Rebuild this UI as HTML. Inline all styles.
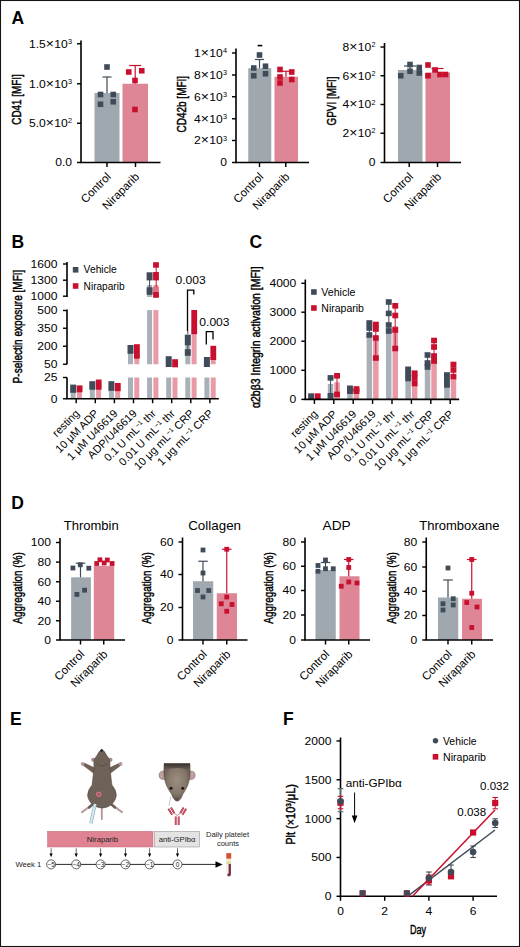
<!DOCTYPE html>
<html><head><meta charset="utf-8"><style>html,body{margin:0;padding:0;background:#fff;}svg{display:block;}</style></head><body>
<svg width="520" height="947" viewBox="0 0 520 947" font-family='"Liberation Sans", sans-serif'>
<rect x="0.00" y="0.00" width="520.00" height="947.00" fill="#fff" />
<text transform="translate(11.40,24.40)" font-size="17.5" text-anchor="start" font-weight="bold" fill="#000" >A</text>
<text transform="translate(11.60,248.30)" font-size="17.5" text-anchor="start" font-weight="bold" fill="#000" >B</text>
<text transform="translate(249.40,248.30)" font-size="17.5" text-anchor="start" font-weight="bold" fill="#000" >C</text>
<text transform="translate(11.30,508.60)" font-size="17.5" text-anchor="start" font-weight="bold" fill="#000" >D</text>
<text transform="translate(9.90,725.40)" font-size="17.5" text-anchor="start" font-weight="bold" fill="#000" >E</text>
<text transform="translate(282.90,725.30)" font-size="17.5" text-anchor="start" font-weight="bold" fill="#000" >F</text>
<line x1="81.00" y1="40.50" x2="81.00" y2="162.50" stroke="#000" stroke-width="1.6" />
<line x1="77.00" y1="43.75" x2="81.00" y2="43.75" stroke="#000" stroke-width="1.4400000000000002" />
<text transform="translate(72.00,47.64) scale(1.12,1)" font-size="10.8" text-anchor="end" font-weight="normal" fill="#000" >1.5<tspan dx="0.1" font-size="12.5">×</tspan><tspan dx="0.1" font-size="10.8">10</tspan><tspan dx="0.3" dy="-3.9" font-size="6.5">3</tspan></text>
<line x1="77.00" y1="83.75" x2="81.00" y2="83.75" stroke="#000" stroke-width="1.4400000000000002" />
<text transform="translate(72.00,87.64) scale(1.12,1)" font-size="10.8" text-anchor="end" font-weight="normal" fill="#000" >1.0<tspan dx="0.1" font-size="12.5">×</tspan><tspan dx="0.1" font-size="10.8">10</tspan><tspan dx="0.3" dy="-3.9" font-size="6.5">3</tspan></text>
<line x1="77.00" y1="123.25" x2="81.00" y2="123.25" stroke="#000" stroke-width="1.4400000000000002" />
<text transform="translate(72.00,127.14) scale(1.12,1)" font-size="10.8" text-anchor="end" font-weight="normal" fill="#000" >5.0<tspan dx="0.1" font-size="12.5">×</tspan><tspan dx="0.1" font-size="10.8">10</tspan><tspan dx="0.3" dy="-3.9" font-size="6.5">2</tspan></text>
<line x1="77.00" y1="162.50" x2="81.00" y2="162.50" stroke="#000" stroke-width="1.4400000000000002" />
<text transform="translate(72.00,166.39) scale(1.12,1)" font-size="10.8" text-anchor="end" font-weight="normal" fill="#000" >0.0</text>
<rect x="94.50" y="93.00" width="25.00" height="69.50" fill="#a0a8af" />
<rect x="122.50" y="83.75" width="25.50" height="78.75" fill="#de8696" />
<line x1="107.00" y1="93.00" x2="107.00" y2="77.00" stroke="#3f4b58" stroke-width="1.2" />
<line x1="102.50" y1="77.00" x2="111.50" y2="77.00" stroke="#3f4b58" stroke-width="1.2" />
<line x1="135.20" y1="83.75" x2="135.20" y2="65.50" stroke="#c8102e" stroke-width="1.2" />
<line x1="129.20" y1="65.50" x2="141.20" y2="65.50" stroke="#c8102e" stroke-width="1.2" />
<rect x="104.20" y="64.20" width="5.60" height="5.60" fill="#3f4b58" />
<rect x="97.70" y="91.70" width="5.60" height="5.60" fill="#3f4b58" />
<rect x="110.45" y="91.70" width="5.60" height="5.60" fill="#3f4b58" />
<rect x="97.70" y="101.45" width="5.60" height="5.60" fill="#3f4b58" />
<rect x="110.45" y="98.95" width="5.60" height="5.60" fill="#3f4b58" />
<rect x="125.95" y="69.20" width="5.60" height="5.60" fill="#c8102e" />
<rect x="138.95" y="67.95" width="5.60" height="5.60" fill="#c8102e" />
<rect x="132.20" y="77.70" width="5.60" height="5.60" fill="#c8102e" />
<rect x="132.20" y="106.70" width="5.60" height="5.60" fill="#c8102e" />
<line x1="80.20" y1="162.50" x2="160.50" y2="162.50" stroke="#000" stroke-width="1.6" />
<line x1="107.00" y1="162.50" x2="107.00" y2="167.00" stroke="#000" stroke-width="1.4400000000000002" />
<line x1="135.50" y1="162.50" x2="135.50" y2="167.00" stroke="#000" stroke-width="1.4400000000000002" />
<text transform="translate(111.60,177.50) rotate(-45)" font-size="11.5" text-anchor="end" font-weight="normal" fill="#000" >Control</text>
<text transform="translate(140.10,177.50) rotate(-45)" font-size="11.5" text-anchor="end" font-weight="normal" fill="#000" >Niraparib</text>
<text transform="translate(21.22,99.45) rotate(-90)" font-size="13.5" text-anchor="middle" font-weight="normal" textLength="50.5" lengthAdjust="spacingAndGlyphs" stroke="#000" stroke-width="0.45">CD41 [MFI]</text>
<line x1="236.00" y1="48.50" x2="236.00" y2="162.50" stroke="#000" stroke-width="1.6" />
<line x1="232.00" y1="53.00" x2="236.00" y2="53.00" stroke="#000" stroke-width="1.4400000000000002" />
<text transform="translate(227.00,56.89) scale(1.12,1)" font-size="10.8" text-anchor="end" font-weight="normal" fill="#000" >1<tspan dx="0.1" font-size="12.5">×</tspan><tspan dx="0.1" font-size="10.8">10</tspan><tspan dx="0.3" dy="-3.9" font-size="6.5">4</tspan></text>
<line x1="232.00" y1="75.00" x2="236.00" y2="75.00" stroke="#000" stroke-width="1.4400000000000002" />
<text transform="translate(227.00,78.89) scale(1.12,1)" font-size="10.8" text-anchor="end" font-weight="normal" fill="#000" >8<tspan dx="0.1" font-size="12.5">×</tspan><tspan dx="0.1" font-size="10.8">10</tspan><tspan dx="0.3" dy="-3.9" font-size="6.5">3</tspan></text>
<line x1="232.00" y1="96.75" x2="236.00" y2="96.75" stroke="#000" stroke-width="1.4400000000000002" />
<text transform="translate(227.00,100.64) scale(1.12,1)" font-size="10.8" text-anchor="end" font-weight="normal" fill="#000" >6<tspan dx="0.1" font-size="12.5">×</tspan><tspan dx="0.1" font-size="10.8">10</tspan><tspan dx="0.3" dy="-3.9" font-size="6.5">3</tspan></text>
<line x1="232.00" y1="118.75" x2="236.00" y2="118.75" stroke="#000" stroke-width="1.4400000000000002" />
<text transform="translate(227.00,122.64) scale(1.12,1)" font-size="10.8" text-anchor="end" font-weight="normal" fill="#000" >4<tspan dx="0.1" font-size="12.5">×</tspan><tspan dx="0.1" font-size="10.8">10</tspan><tspan dx="0.3" dy="-3.9" font-size="6.5">3</tspan></text>
<line x1="232.00" y1="140.50" x2="236.00" y2="140.50" stroke="#000" stroke-width="1.4400000000000002" />
<text transform="translate(227.00,144.39) scale(1.12,1)" font-size="10.8" text-anchor="end" font-weight="normal" fill="#000" >2<tspan dx="0.1" font-size="12.5">×</tspan><tspan dx="0.1" font-size="10.8">10</tspan><tspan dx="0.3" dy="-3.9" font-size="6.5">3</tspan></text>
<line x1="232.00" y1="162.50" x2="236.00" y2="162.50" stroke="#000" stroke-width="1.4400000000000002" />
<text transform="translate(227.00,166.39) scale(1.12,1)" font-size="10.8" text-anchor="end" font-weight="normal" fill="#000" >0</text>
<rect x="248.25" y="68.25" width="23.00" height="94.25" fill="#a0a8af" />
<rect x="274.50" y="76.75" width="23.50" height="85.75" fill="#de8696" />
<line x1="259.50" y1="68.25" x2="259.50" y2="59.50" stroke="#3f4b58" stroke-width="1.2" />
<line x1="255.00" y1="59.50" x2="264.00" y2="59.50" stroke="#3f4b58" stroke-width="1.2" />
<line x1="257.60" y1="45.60" x2="262.30" y2="45.60" stroke="#000" stroke-width="1.6" />
<rect x="256.70" y="52.20" width="5.60" height="5.60" fill="#3f4b58" />
<rect x="250.95" y="65.20" width="5.60" height="5.60" fill="#3f4b58" />
<rect x="262.70" y="63.45" width="5.60" height="5.60" fill="#3f4b58" />
<rect x="250.95" y="72.95" width="5.60" height="5.60" fill="#3f4b58" />
<rect x="262.70" y="70.95" width="5.60" height="5.60" fill="#3f4b58" />
<line x1="286.00" y1="76.75" x2="286.00" y2="71.25" stroke="#c8102e" stroke-width="1.2" />
<line x1="280.00" y1="71.25" x2="292.00" y2="71.25" stroke="#c8102e" stroke-width="1.2" />
<rect x="277.20" y="66.70" width="5.60" height="5.60" fill="#c8102e" />
<rect x="288.95" y="69.20" width="5.60" height="5.60" fill="#c8102e" />
<rect x="277.20" y="74.20" width="5.60" height="5.60" fill="#c8102e" />
<rect x="277.20" y="80.20" width="5.60" height="5.60" fill="#c8102e" />
<rect x="288.95" y="76.70" width="5.60" height="5.60" fill="#c8102e" />
<line x1="235.20" y1="162.50" x2="309.00" y2="162.50" stroke="#000" stroke-width="1.6" />
<line x1="259.50" y1="162.50" x2="259.50" y2="167.00" stroke="#000" stroke-width="1.4400000000000002" />
<line x1="285.75" y1="162.50" x2="285.75" y2="167.00" stroke="#000" stroke-width="1.4400000000000002" />
<text transform="translate(264.10,177.50) rotate(-45)" font-size="11.5" text-anchor="end" font-weight="normal" fill="#000" >Control</text>
<text transform="translate(290.35,177.50) rotate(-45)" font-size="11.5" text-anchor="end" font-weight="normal" fill="#000" >Niraparib</text>
<text transform="translate(185.92,104.20) rotate(-90)" font-size="13.5" text-anchor="middle" font-weight="normal" textLength="56.6" lengthAdjust="spacingAndGlyphs" stroke="#000" stroke-width="0.45">CD42b [MFI]</text>
<line x1="384.50" y1="43.00" x2="384.50" y2="162.50" stroke="#000" stroke-width="1.6" />
<line x1="380.50" y1="47.00" x2="384.50" y2="47.00" stroke="#000" stroke-width="1.4400000000000002" />
<text transform="translate(375.50,50.89) scale(1.12,1)" font-size="10.8" text-anchor="end" font-weight="normal" fill="#000" >8<tspan dx="0.1" font-size="12.5">×</tspan><tspan dx="0.1" font-size="10.8">10</tspan><tspan dx="0.3" dy="-3.9" font-size="6.5">2</tspan></text>
<line x1="380.50" y1="75.75" x2="384.50" y2="75.75" stroke="#000" stroke-width="1.4400000000000002" />
<text transform="translate(375.50,79.64) scale(1.12,1)" font-size="10.8" text-anchor="end" font-weight="normal" fill="#000" >6<tspan dx="0.1" font-size="12.5">×</tspan><tspan dx="0.1" font-size="10.8">10</tspan><tspan dx="0.3" dy="-3.9" font-size="6.5">2</tspan></text>
<line x1="380.50" y1="104.50" x2="384.50" y2="104.50" stroke="#000" stroke-width="1.4400000000000002" />
<text transform="translate(375.50,108.39) scale(1.12,1)" font-size="10.8" text-anchor="end" font-weight="normal" fill="#000" >4<tspan dx="0.1" font-size="12.5">×</tspan><tspan dx="0.1" font-size="10.8">10</tspan><tspan dx="0.3" dy="-3.9" font-size="6.5">2</tspan></text>
<line x1="380.50" y1="133.25" x2="384.50" y2="133.25" stroke="#000" stroke-width="1.4400000000000002" />
<text transform="translate(375.50,137.14) scale(1.12,1)" font-size="10.8" text-anchor="end" font-weight="normal" fill="#000" >2<tspan dx="0.1" font-size="12.5">×</tspan><tspan dx="0.1" font-size="10.8">10</tspan><tspan dx="0.3" dy="-3.9" font-size="6.5">2</tspan></text>
<line x1="380.50" y1="162.50" x2="384.50" y2="162.50" stroke="#000" stroke-width="1.4400000000000002" />
<text transform="translate(375.50,166.39) scale(1.12,1)" font-size="10.8" text-anchor="end" font-weight="normal" fill="#000" >0</text>
<rect x="398.00" y="70.00" width="24.50" height="92.50" fill="#a0a8af" />
<rect x="425.50" y="72.50" width="24.50" height="90.00" fill="#de8696" />
<line x1="410.00" y1="70.00" x2="410.00" y2="66.00" stroke="#3f4b58" stroke-width="1.2" />
<line x1="404.00" y1="66.00" x2="416.00" y2="66.00" stroke="#3f4b58" stroke-width="1.2" />
<rect x="397.95" y="72.95" width="5.60" height="5.60" fill="#3f4b58" />
<rect x="407.20" y="61.70" width="5.60" height="5.60" fill="#3f4b58" />
<rect x="407.20" y="68.45" width="5.60" height="5.60" fill="#3f4b58" />
<rect x="416.45" y="64.70" width="5.60" height="5.60" fill="#3f4b58" />
<rect x="416.45" y="70.20" width="5.60" height="5.60" fill="#3f4b58" />
<line x1="437.50" y1="72.50" x2="437.50" y2="68.50" stroke="#c8102e" stroke-width="1.2" />
<line x1="431.50" y1="68.50" x2="443.50" y2="68.50" stroke="#c8102e" stroke-width="1.2" />
<rect x="425.20" y="62.20" width="5.60" height="5.60" fill="#c8102e" />
<rect x="432.20" y="67.20" width="5.60" height="5.60" fill="#c8102e" />
<rect x="442.70" y="71.70" width="5.60" height="5.60" fill="#c8102e" />
<rect x="437.20" y="71.70" width="5.60" height="5.60" fill="#c8102e" />
<rect x="425.20" y="72.95" width="5.60" height="5.60" fill="#c8102e" />
<line x1="383.70" y1="162.50" x2="461.00" y2="162.50" stroke="#000" stroke-width="1.6" />
<line x1="409.20" y1="162.50" x2="409.20" y2="167.00" stroke="#000" stroke-width="1.4400000000000002" />
<line x1="437.50" y1="162.50" x2="437.50" y2="167.00" stroke="#000" stroke-width="1.4400000000000002" />
<text transform="translate(413.80,177.50) rotate(-45)" font-size="11.5" text-anchor="end" font-weight="normal" fill="#000" >Control</text>
<text transform="translate(442.10,177.50) rotate(-45)" font-size="11.5" text-anchor="end" font-weight="normal" fill="#000" >Niraparib</text>
<text transform="translate(335.82,101.00) rotate(-90)" font-size="13.5" text-anchor="middle" font-weight="normal" textLength="48.8" lengthAdjust="spacingAndGlyphs" stroke="#000" stroke-width="0.45">GPVI [MFI]</text>
<line x1="67.00" y1="262.00" x2="67.00" y2="297.00" stroke="#000" stroke-width="1.6" />
<line x1="63.00" y1="264.00" x2="67.00" y2="264.00" stroke="#000" stroke-width="1.4" />
<text transform="translate(57.50,267.90) scale(1.12,1)" font-size="10.8" text-anchor="end" font-weight="normal" fill="#000" >1600</text>
<line x1="63.00" y1="280.20" x2="67.00" y2="280.20" stroke="#000" stroke-width="1.4" />
<text transform="translate(57.50,284.10) scale(1.12,1)" font-size="10.8" text-anchor="end" font-weight="normal" fill="#000" >1300</text>
<line x1="63.00" y1="296.20" x2="67.00" y2="296.20" stroke="#000" stroke-width="1.4" />
<text transform="translate(57.50,300.10) scale(1.12,1)" font-size="10.8" text-anchor="end" font-weight="normal" fill="#000" >1000</text>
<line x1="67.00" y1="309.50" x2="67.00" y2="364.25" stroke="#000" stroke-width="1.6" />
<line x1="63.00" y1="310.50" x2="67.00" y2="310.50" stroke="#000" stroke-width="1.4" />
<text transform="translate(57.50,314.40) scale(1.12,1)" font-size="10.8" text-anchor="end" font-weight="normal" fill="#000" >500</text>
<line x1="63.00" y1="328.25" x2="67.00" y2="328.25" stroke="#000" stroke-width="1.4" />
<text transform="translate(57.50,332.15) scale(1.12,1)" font-size="10.8" text-anchor="end" font-weight="normal" fill="#000" >350</text>
<line x1="63.00" y1="346.25" x2="67.00" y2="346.25" stroke="#000" stroke-width="1.4" />
<text transform="translate(57.50,350.15) scale(1.12,1)" font-size="10.8" text-anchor="end" font-weight="normal" fill="#000" >200</text>
<line x1="63.00" y1="364.25" x2="67.00" y2="364.25" stroke="#000" stroke-width="1.4" />
<text transform="translate(57.50,368.15) scale(1.12,1)" font-size="10.8" text-anchor="end" font-weight="normal" fill="#000" >50</text>
<line x1="67.00" y1="377.50" x2="67.00" y2="398.75" stroke="#000" stroke-width="1.6" />
<line x1="63.00" y1="377.50" x2="67.00" y2="377.50" stroke="#000" stroke-width="1.4" />
<text transform="translate(57.50,381.40) scale(1.12,1)" font-size="10.8" text-anchor="end" font-weight="normal" fill="#000" >25</text>
<line x1="63.00" y1="398.75" x2="67.00" y2="398.75" stroke="#000" stroke-width="1.4" />
<text transform="translate(57.50,402.65) scale(1.12,1)" font-size="10.8" text-anchor="end" font-weight="normal" fill="#000" >0</text>
<rect x="128.00" y="377.50" width="5.00" height="21.25" fill="#a9b0b7" />
<rect x="134.30" y="377.50" width="5.00" height="21.25" fill="#e89ba7" />
<rect x="147.10" y="377.50" width="5.00" height="21.25" fill="#a9b0b7" />
<rect x="153.40" y="377.50" width="5.00" height="21.25" fill="#e89ba7" />
<rect x="166.20" y="377.50" width="5.00" height="21.25" fill="#a9b0b7" />
<rect x="172.50" y="377.50" width="5.00" height="21.25" fill="#e89ba7" />
<rect x="185.30" y="377.50" width="5.00" height="21.25" fill="#a9b0b7" />
<rect x="191.60" y="377.50" width="5.00" height="21.25" fill="#e89ba7" />
<rect x="204.40" y="377.50" width="5.00" height="21.25" fill="#a9b0b7" />
<rect x="210.70" y="377.50" width="5.00" height="21.25" fill="#e89ba7" />
<rect x="70.70" y="388.00" width="5.00" height="10.75" fill="#a9b0b7" />
<rect x="70.20" y="384.60" width="6.00" height="8.20" fill="#3f4b58" />
<rect x="77.00" y="388.00" width="5.00" height="10.75" fill="#e89ba7" />
<rect x="76.70" y="385.40" width="5.80" height="6.90" fill="#c8102e" />
<rect x="89.80" y="385.00" width="5.00" height="13.75" fill="#a9b0b7" />
<rect x="89.30" y="381.20" width="6.00" height="8.50" fill="#3f4b58" />
<rect x="96.10" y="385.00" width="5.00" height="13.75" fill="#e89ba7" />
<rect x="95.80" y="379.50" width="5.80" height="10.20" fill="#c8102e" />
<rect x="108.90" y="385.00" width="5.00" height="13.75" fill="#a9b0b7" />
<rect x="108.40" y="381.20" width="6.00" height="9.60" fill="#3f4b58" />
<rect x="115.20" y="385.00" width="5.00" height="13.75" fill="#e89ba7" />
<rect x="114.90" y="383.00" width="5.80" height="8.20" fill="#c8102e" />
<rect x="128.00" y="350.00" width="5.00" height="14.25" fill="#a9b0b7" />
<rect x="127.50" y="345.00" width="6.00" height="8.80" fill="#3f4b58" />
<rect x="134.30" y="350.00" width="5.00" height="14.25" fill="#e89ba7" />
<rect x="134.00" y="344.20" width="5.80" height="14.50" fill="#c8102e" />
<rect x="147.10" y="310.10" width="5.00" height="54.15" fill="#a9b0b7" />
<rect x="153.40" y="310.10" width="5.00" height="54.15" fill="#e89ba7" />
<rect x="165.70" y="356.20" width="6.00" height="10.80" fill="#3f4b58" />
<rect x="172.20" y="359.20" width="5.80" height="8.10" fill="#c8102e" />
<rect x="185.30" y="340.00" width="5.00" height="24.25" fill="#a9b0b7" />
<rect x="184.80" y="334.60" width="6.00" height="10.70" fill="#3f4b58" />
<rect x="184.80" y="349.20" width="6.00" height="6.60" fill="#3f4b58" />
<line x1="187.80" y1="345.00" x2="187.80" y2="349.50" stroke="#3f4b58" stroke-width="1" />
<rect x="191.60" y="330.00" width="5.00" height="34.25" fill="#e89ba7" />
<rect x="191.30" y="310.00" width="5.80" height="24.20" fill="#c8102e" />
<line x1="187.80" y1="334.00" x2="187.80" y2="331.00" stroke="#3f4b58" stroke-width="1" />
<rect x="204.40" y="360.00" width="5.00" height="4.25" fill="#a9b0b7" />
<rect x="203.90" y="357.00" width="6.00" height="10.00" fill="#3f4b58" />
<rect x="210.70" y="355.00" width="5.00" height="9.25" fill="#e89ba7" />
<rect x="210.40" y="345.80" width="5.80" height="14.20" fill="#c8102e" />
<rect x="147.10" y="285.00" width="5.00" height="12.00" fill="#a9b0b7" />
<rect x="153.40" y="285.00" width="5.00" height="12.70" fill="#e89ba7" />
<line x1="149.60" y1="280.00" x2="149.60" y2="288.00" stroke="#3f4b58" stroke-width="1" />
<line x1="156.20" y1="267.00" x2="156.20" y2="288.00" stroke="#c8102e" stroke-width="1" />
<rect x="146.60" y="272.30" width="6.00" height="8.10" fill="#3f4b58" />
<rect x="146.60" y="287.30" width="6.00" height="7.50" fill="#3f4b58" />
<rect x="153.10" y="262.20" width="5.80" height="5.50" fill="#c8102e" />
<rect x="153.10" y="272.00" width="5.80" height="8.40" fill="#c8102e" />
<rect x="153.10" y="292.00" width="5.80" height="5.70" fill="#c8102e" />
<rect x="153.10" y="287.00" width="5.80" height="5.00" fill="#e4707f" />
<polyline points="187.5,331 187.5,290.2 193.8,290.2 193.8,294.4" fill="none" stroke="#000" stroke-width="1.3"/>
<polyline points="206.3,344.6 206.3,331.7 213,331.7 213,339.4" fill="none" stroke="#000" stroke-width="1.3"/>
<text transform="translate(175.50,284.30) scale(1.12,1)" font-size="10.8" text-anchor="start" font-weight="normal" fill="#000" >0.003</text>
<text transform="translate(199.30,325.80) scale(1.12,1)" font-size="10.8" text-anchor="start" font-weight="normal" fill="#000" >0.003</text>
<line x1="66.20" y1="398.75" x2="218.80" y2="398.75" stroke="#000" stroke-width="1.6" />
<line x1="76.20" y1="398.75" x2="76.20" y2="403.25" stroke="#000" stroke-width="1.4400000000000002" />
<line x1="95.30" y1="398.75" x2="95.30" y2="403.25" stroke="#000" stroke-width="1.4400000000000002" />
<line x1="114.40" y1="398.75" x2="114.40" y2="403.25" stroke="#000" stroke-width="1.4400000000000002" />
<line x1="133.50" y1="398.75" x2="133.50" y2="403.25" stroke="#000" stroke-width="1.4400000000000002" />
<line x1="152.60" y1="398.75" x2="152.60" y2="403.25" stroke="#000" stroke-width="1.4400000000000002" />
<line x1="171.70" y1="398.75" x2="171.70" y2="403.25" stroke="#000" stroke-width="1.4400000000000002" />
<line x1="190.80" y1="398.75" x2="190.80" y2="403.25" stroke="#000" stroke-width="1.4400000000000002" />
<line x1="209.90" y1="398.75" x2="209.90" y2="403.25" stroke="#000" stroke-width="1.4400000000000002" />
<rect x="72.80" y="267.00" width="5.60" height="5.60" fill="#3f4b58" />
<text transform="translate(83.60,273.40)" font-size="10.3" text-anchor="start" font-weight="normal" fill="#000" >Vehicle</text>
<rect x="72.80" y="283.20" width="5.60" height="5.60" fill="#c8102e" />
<text transform="translate(83.60,289.60)" font-size="10.1" text-anchor="start" font-weight="normal" fill="#000" >Niraparib</text>
<text transform="translate(22.47,326.50) rotate(-90)" font-size="13.5" text-anchor="middle" font-weight="normal" textLength="113.8" lengthAdjust="spacingAndGlyphs" stroke="#000" stroke-width="0.45">P-selectin exposure [MFI]</text>
<text transform="translate(80.20,414.05) rotate(-45)" font-size="11" text-anchor="end" font-weight="normal" fill="#000" >resting</text>
<text transform="translate(99.30,414.05) rotate(-45)" font-size="11" text-anchor="end" font-weight="normal" fill="#000" >10 μM ADP</text>
<text transform="translate(118.40,414.05) rotate(-45)" font-size="11" text-anchor="end" font-weight="normal" fill="#000" >1 μM U46619</text>
<text transform="translate(137.50,414.05) rotate(-45)" font-size="11" text-anchor="end" font-weight="normal" fill="#000" >ADP/U46619</text>
<text transform="translate(156.60,414.05) rotate(-45)" font-size="11" text-anchor="end" font-weight="normal" fill="#000" >0.1 U mL<tspan dy="-3.5" font-size="6.5">−1</tspan><tspan dy="3.5"> thr</tspan></text>
<text transform="translate(175.70,414.05) rotate(-45)" font-size="11" text-anchor="end" font-weight="normal" fill="#000" >0.01 U mL<tspan dy="-3.5" font-size="6.5">−1</tspan><tspan dy="3.5"> thr</tspan></text>
<text transform="translate(194.80,414.05) rotate(-45)" font-size="11" text-anchor="end" font-weight="normal" fill="#000" >10 μg mL<tspan dy="-3.5" font-size="6.5">−1</tspan><tspan dy="3.5"> CRP</tspan></text>
<text transform="translate(213.90,414.05) rotate(-45)" font-size="11" text-anchor="end" font-weight="normal" fill="#000" >1 μg mL<tspan dy="-3.5" font-size="6.5">−1</tspan><tspan dy="3.5"> CRP</tspan></text>
<line x1="305.30" y1="279.50" x2="305.30" y2="399.40" stroke="#000" stroke-width="1.6" />
<line x1="301.30" y1="283.30" x2="305.30" y2="283.30" stroke="#000" stroke-width="1.4400000000000002" />
<text transform="translate(296.30,287.19) scale(1.12,1)" font-size="10.8" text-anchor="end" font-weight="normal" fill="#000" >4000</text>
<line x1="301.30" y1="312.20" x2="305.30" y2="312.20" stroke="#000" stroke-width="1.4400000000000002" />
<text transform="translate(296.30,316.09) scale(1.12,1)" font-size="10.8" text-anchor="end" font-weight="normal" fill="#000" >3000</text>
<line x1="301.30" y1="341.20" x2="305.30" y2="341.20" stroke="#000" stroke-width="1.4400000000000002" />
<text transform="translate(296.30,345.09) scale(1.12,1)" font-size="10.8" text-anchor="end" font-weight="normal" fill="#000" >2000</text>
<line x1="301.30" y1="370.30" x2="305.30" y2="370.30" stroke="#000" stroke-width="1.4400000000000002" />
<text transform="translate(296.30,374.19) scale(1.12,1)" font-size="10.8" text-anchor="end" font-weight="normal" fill="#000" >1000</text>
<line x1="301.30" y1="399.40" x2="305.30" y2="399.40" stroke="#000" stroke-width="1.4400000000000002" />
<text transform="translate(296.30,403.29) scale(1.12,1)" font-size="10.8" text-anchor="end" font-weight="normal" fill="#000" >0</text>
<rect x="308.40" y="393.50" width="5.50" height="5.90" fill="#a9b0b7" />
<rect x="314.90" y="393.50" width="5.50" height="5.90" fill="#e89ba7" />
<rect x="308.20" y="393.40" width="5.90" height="5.60" fill="#3f4b58" />
<rect x="314.70" y="393.40" width="5.90" height="5.60" fill="#c8102e" />
<rect x="327.80" y="384.00" width="5.50" height="15.40" fill="#a9b0b7" />
<rect x="334.30" y="382.30" width="5.50" height="17.10" fill="#e89ba7" />
<line x1="330.60" y1="377.90" x2="330.60" y2="395.80" stroke="#3f4b58" stroke-width="1" />
<line x1="337.00" y1="375.80" x2="337.00" y2="394.40" stroke="#c8102e" stroke-width="1" />
<rect x="327.60" y="375.10" width="5.90" height="5.60" fill="#3f4b58" />
<rect x="327.60" y="393.00" width="5.90" height="5.60" fill="#3f4b58" />
<rect x="334.10" y="373.00" width="5.90" height="5.60" fill="#c8102e" />
<rect x="334.10" y="391.60" width="5.90" height="5.60" fill="#c8102e" />
<rect x="347.20" y="389.00" width="5.50" height="10.40" fill="#a9b0b7" />
<rect x="353.70" y="389.00" width="5.50" height="10.40" fill="#e89ba7" />
<line x1="350.00" y1="388.30" x2="350.00" y2="391.20" stroke="#3f4b58" stroke-width="1" />
<line x1="356.40" y1="389.00" x2="356.40" y2="391.20" stroke="#c8102e" stroke-width="1" />
<rect x="347.00" y="385.50" width="5.90" height="5.60" fill="#3f4b58" />
<rect x="347.00" y="388.40" width="5.90" height="5.60" fill="#3f4b58" />
<rect x="353.50" y="386.20" width="5.90" height="5.60" fill="#c8102e" />
<rect x="353.50" y="388.40" width="5.90" height="5.60" fill="#c8102e" />
<rect x="366.60" y="334.00" width="5.50" height="65.40" fill="#a9b0b7" />
<rect x="373.10" y="338.00" width="5.50" height="61.40" fill="#e89ba7" />
<line x1="369.40" y1="323.00" x2="369.40" y2="335.00" stroke="#3f4b58" stroke-width="1" />
<line x1="375.80" y1="324.50" x2="375.80" y2="358.00" stroke="#c8102e" stroke-width="1" />
<rect x="366.40" y="320.20" width="5.90" height="5.60" fill="#3f4b58" />
<rect x="366.40" y="325.20" width="5.90" height="5.60" fill="#3f4b58" />
<rect x="366.40" y="332.20" width="5.90" height="5.60" fill="#3f4b58" />
<rect x="372.90" y="321.70" width="5.90" height="5.60" fill="#c8102e" />
<rect x="372.90" y="326.20" width="5.90" height="5.60" fill="#c8102e" />
<rect x="372.90" y="335.20" width="5.90" height="5.60" fill="#c8102e" />
<rect x="372.90" y="355.20" width="5.90" height="5.60" fill="#c8102e" />
<rect x="386.00" y="328.00" width="5.50" height="71.40" fill="#a9b0b7" />
<rect x="392.50" y="326.00" width="5.50" height="73.40" fill="#e89ba7" />
<line x1="388.80" y1="302.00" x2="388.80" y2="331.00" stroke="#3f4b58" stroke-width="1" />
<line x1="395.20" y1="305.80" x2="395.20" y2="348.50" stroke="#c8102e" stroke-width="1" />
<rect x="385.80" y="299.20" width="5.90" height="5.60" fill="#3f4b58" />
<rect x="385.80" y="310.60" width="5.90" height="5.60" fill="#3f4b58" />
<rect x="385.80" y="322.20" width="5.90" height="5.60" fill="#3f4b58" />
<rect x="385.80" y="328.20" width="5.90" height="5.60" fill="#3f4b58" />
<rect x="392.30" y="303.00" width="5.90" height="5.60" fill="#c8102e" />
<rect x="392.30" y="312.70" width="5.90" height="5.60" fill="#c8102e" />
<rect x="392.30" y="327.20" width="5.90" height="5.60" fill="#c8102e" />
<rect x="392.30" y="345.70" width="5.90" height="5.60" fill="#c8102e" />
<rect x="405.40" y="381.00" width="5.50" height="18.40" fill="#a9b0b7" />
<rect x="411.90" y="386.00" width="5.50" height="13.40" fill="#e89ba7" />
<line x1="408.20" y1="369.30" x2="408.20" y2="378.50" stroke="#3f4b58" stroke-width="1" />
<line x1="414.60" y1="373.20" x2="414.60" y2="383.50" stroke="#c8102e" stroke-width="1" />
<rect x="405.20" y="366.50" width="5.90" height="5.60" fill="#3f4b58" />
<rect x="405.20" y="371.20" width="5.90" height="5.60" fill="#3f4b58" />
<rect x="405.20" y="375.70" width="5.90" height="5.60" fill="#3f4b58" />
<rect x="411.70" y="370.40" width="5.90" height="5.60" fill="#c8102e" />
<rect x="411.70" y="375.20" width="5.90" height="5.60" fill="#c8102e" />
<rect x="411.70" y="380.70" width="5.90" height="5.60" fill="#c8102e" />
<rect x="424.80" y="369.00" width="5.50" height="30.40" fill="#a9b0b7" />
<rect x="431.30" y="363.00" width="5.50" height="36.40" fill="#e89ba7" />
<line x1="427.60" y1="355.00" x2="427.60" y2="367.00" stroke="#3f4b58" stroke-width="1" />
<line x1="434.00" y1="340.50" x2="434.00" y2="361.00" stroke="#c8102e" stroke-width="1" />
<rect x="424.60" y="352.20" width="5.90" height="5.60" fill="#3f4b58" />
<rect x="424.60" y="360.20" width="5.90" height="5.60" fill="#3f4b58" />
<rect x="424.60" y="364.20" width="5.90" height="5.60" fill="#3f4b58" />
<rect x="431.10" y="337.70" width="5.90" height="5.60" fill="#c8102e" />
<rect x="431.10" y="344.20" width="5.90" height="5.60" fill="#c8102e" />
<rect x="431.10" y="353.20" width="5.90" height="5.60" fill="#c8102e" />
<rect x="431.10" y="358.20" width="5.90" height="5.60" fill="#c8102e" />
<rect x="444.20" y="387.70" width="5.50" height="11.70" fill="#a9b0b7" />
<rect x="450.70" y="379.40" width="5.50" height="20.00" fill="#e89ba7" />
<line x1="447.00" y1="375.00" x2="447.00" y2="385.00" stroke="#3f4b58" stroke-width="1" />
<line x1="453.40" y1="364.50" x2="453.40" y2="376.70" stroke="#c8102e" stroke-width="1" />
<rect x="444.00" y="372.20" width="5.90" height="5.60" fill="#3f4b58" />
<rect x="444.00" y="377.20" width="5.90" height="5.60" fill="#3f4b58" />
<rect x="444.00" y="382.20" width="5.90" height="5.60" fill="#3f4b58" />
<rect x="450.50" y="361.70" width="5.90" height="5.60" fill="#c8102e" />
<rect x="450.50" y="367.20" width="5.90" height="5.60" fill="#c8102e" />
<rect x="450.50" y="373.90" width="5.90" height="5.60" fill="#c8102e" />
<line x1="304.50" y1="399.40" x2="459.20" y2="399.40" stroke="#000" stroke-width="1.6" />
<line x1="314.40" y1="399.40" x2="314.40" y2="403.90" stroke="#000" stroke-width="1.4400000000000002" />
<line x1="333.80" y1="399.40" x2="333.80" y2="403.90" stroke="#000" stroke-width="1.4400000000000002" />
<line x1="353.20" y1="399.40" x2="353.20" y2="403.90" stroke="#000" stroke-width="1.4400000000000002" />
<line x1="372.60" y1="399.40" x2="372.60" y2="403.90" stroke="#000" stroke-width="1.4400000000000002" />
<line x1="392.00" y1="399.40" x2="392.00" y2="403.90" stroke="#000" stroke-width="1.4400000000000002" />
<line x1="411.40" y1="399.40" x2="411.40" y2="403.90" stroke="#000" stroke-width="1.4400000000000002" />
<line x1="430.80" y1="399.40" x2="430.80" y2="403.90" stroke="#000" stroke-width="1.4400000000000002" />
<line x1="450.20" y1="399.40" x2="450.20" y2="403.90" stroke="#000" stroke-width="1.4400000000000002" />
<rect x="311.10" y="289.20" width="5.60" height="5.60" fill="#3f4b58" />
<text transform="translate(321.30,295.60)" font-size="10.6" text-anchor="start" font-weight="normal" fill="#000" >Vehicle</text>
<rect x="311.10" y="305.20" width="5.60" height="5.60" fill="#c8102e" />
<text transform="translate(321.30,311.60)" font-size="10.5" text-anchor="start" font-weight="normal" fill="#000" >Niraparib</text>
<text transform="translate(259.52,337.20) rotate(-90)" font-size="13.5" text-anchor="middle" font-weight="normal" textLength="141.8" lengthAdjust="spacingAndGlyphs" stroke="#000" stroke-width="0.45">α2bβ3 Integrin activation [MFI]</text>
<text transform="translate(318.40,414.70) rotate(-45)" font-size="11" text-anchor="end" font-weight="normal" fill="#000" >resting</text>
<text transform="translate(337.80,414.70) rotate(-45)" font-size="11" text-anchor="end" font-weight="normal" fill="#000" >10 μM ADP</text>
<text transform="translate(357.20,414.70) rotate(-45)" font-size="11" text-anchor="end" font-weight="normal" fill="#000" >1 μM U46619</text>
<text transform="translate(376.60,414.70) rotate(-45)" font-size="11" text-anchor="end" font-weight="normal" fill="#000" >ADP/U46619</text>
<text transform="translate(396.00,414.70) rotate(-45)" font-size="11" text-anchor="end" font-weight="normal" fill="#000" >0.1 U mL<tspan dy="-3.5" font-size="6.5">−1</tspan><tspan dy="3.5"> thr</tspan></text>
<text transform="translate(415.40,414.70) rotate(-45)" font-size="11" text-anchor="end" font-weight="normal" fill="#000" >0.01 U mL<tspan dy="-3.5" font-size="6.5">−1</tspan><tspan dy="3.5"> thr</tspan></text>
<text transform="translate(434.80,414.70) rotate(-45)" font-size="11" text-anchor="end" font-weight="normal" fill="#000" >10 μg mL<tspan dy="-3.5" font-size="6.5">−1</tspan><tspan dy="3.5"> CRP</tspan></text>
<text transform="translate(454.20,414.70) rotate(-45)" font-size="11" text-anchor="end" font-weight="normal" fill="#000" >1 μg mL<tspan dy="-3.5" font-size="6.5">−1</tspan><tspan dy="3.5"> CRP</tspan></text>
<line x1="60.00" y1="538.00" x2="60.00" y2="640.00" stroke="#000" stroke-width="1.6" />
<line x1="56.00" y1="542.50" x2="60.00" y2="542.50" stroke="#000" stroke-width="1.4400000000000002" />
<text transform="translate(51.00,546.39) scale(1.12,1)" font-size="10.8" text-anchor="end" font-weight="normal" fill="#000" >100</text>
<line x1="56.00" y1="562.10" x2="60.00" y2="562.10" stroke="#000" stroke-width="1.4400000000000002" />
<text transform="translate(51.00,565.99) scale(1.12,1)" font-size="10.8" text-anchor="end" font-weight="normal" fill="#000" >80</text>
<line x1="56.00" y1="581.75" x2="60.00" y2="581.75" stroke="#000" stroke-width="1.4400000000000002" />
<text transform="translate(51.00,585.64) scale(1.12,1)" font-size="10.8" text-anchor="end" font-weight="normal" fill="#000" >60</text>
<line x1="56.00" y1="601.25" x2="60.00" y2="601.25" stroke="#000" stroke-width="1.4400000000000002" />
<text transform="translate(51.00,605.14) scale(1.12,1)" font-size="10.8" text-anchor="end" font-weight="normal" fill="#000" >40</text>
<line x1="56.00" y1="620.75" x2="60.00" y2="620.75" stroke="#000" stroke-width="1.4400000000000002" />
<text transform="translate(51.00,624.64) scale(1.12,1)" font-size="10.8" text-anchor="end" font-weight="normal" fill="#000" >20</text>
<line x1="56.00" y1="640.00" x2="60.00" y2="640.00" stroke="#000" stroke-width="1.4400000000000002" />
<text transform="translate(51.00,643.89) scale(1.12,1)" font-size="10.8" text-anchor="end" font-weight="normal" fill="#000" >0</text>
<rect x="71.10" y="577.30" width="19.80" height="62.70" fill="#a0a8af" />
<rect x="93.80" y="565.90" width="20.40" height="74.10" fill="#de8696" />
<line x1="80.50" y1="577.30" x2="80.50" y2="563.20" stroke="#3f4b58" stroke-width="1.2" />
<line x1="75.75" y1="563.20" x2="85.25" y2="563.20" stroke="#3f4b58" stroke-width="1.2" />
<rect x="70.50" y="565.60" width="4.80" height="4.80" fill="#3f4b58" />
<rect x="77.90" y="562.40" width="4.80" height="4.80" fill="#3f4b58" />
<rect x="86.40" y="565.80" width="4.80" height="4.80" fill="#3f4b58" />
<rect x="82.20" y="587.80" width="4.80" height="4.80" fill="#3f4b58" />
<rect x="74.50" y="592.00" width="4.80" height="4.80" fill="#3f4b58" />
<rect x="94.30" y="561.10" width="4.80" height="4.80" fill="#c8102e" />
<rect x="97.50" y="557.40" width="4.80" height="4.80" fill="#c8102e" />
<rect x="101.80" y="560.60" width="4.80" height="4.80" fill="#c8102e" />
<rect x="104.90" y="557.60" width="4.80" height="4.80" fill="#c8102e" />
<rect x="109.70" y="561.10" width="4.80" height="4.80" fill="#c8102e" />
<line x1="59.20" y1="640.00" x2="125.00" y2="640.00" stroke="#000" stroke-width="1.6" />
<line x1="80.50" y1="640.00" x2="80.50" y2="644.50" stroke="#000" stroke-width="1.4400000000000002" />
<line x1="103.75" y1="640.00" x2="103.75" y2="644.50" stroke="#000" stroke-width="1.4400000000000002" />
<text transform="translate(85.10,655.00) rotate(-45)" font-size="11.5" text-anchor="end" font-weight="normal" fill="#000" >Control</text>
<text transform="translate(108.35,655.00) rotate(-45)" font-size="11.5" text-anchor="end" font-weight="normal" fill="#000" >Niraparib</text>
<text transform="translate(91.20,530.00)" font-size="13" text-anchor="middle" font-weight="normal" fill="#000" >Thrombin</text>
<text transform="translate(22.12,588.00) rotate(-90)" font-size="13.5" text-anchor="middle" font-weight="normal" textLength="71.4" lengthAdjust="spacingAndGlyphs" stroke="#000" stroke-width="0.45">Aggregation (%)</text>
<line x1="182.50" y1="537.50" x2="182.50" y2="640.00" stroke="#000" stroke-width="1.6" />
<line x1="178.50" y1="542.00" x2="182.50" y2="542.00" stroke="#000" stroke-width="1.4400000000000002" />
<text transform="translate(173.50,545.89) scale(1.12,1)" font-size="10.8" text-anchor="end" font-weight="normal" fill="#000" >60</text>
<line x1="178.50" y1="574.50" x2="182.50" y2="574.50" stroke="#000" stroke-width="1.4400000000000002" />
<text transform="translate(173.50,578.39) scale(1.12,1)" font-size="10.8" text-anchor="end" font-weight="normal" fill="#000" >40</text>
<line x1="178.50" y1="607.50" x2="182.50" y2="607.50" stroke="#000" stroke-width="1.4400000000000002" />
<text transform="translate(173.50,611.39) scale(1.12,1)" font-size="10.8" text-anchor="end" font-weight="normal" fill="#000" >20</text>
<line x1="178.50" y1="640.00" x2="182.50" y2="640.00" stroke="#000" stroke-width="1.4400000000000002" />
<text transform="translate(173.50,643.89) scale(1.12,1)" font-size="10.8" text-anchor="end" font-weight="normal" fill="#000" >0</text>
<rect x="193.00" y="581.25" width="20.25" height="58.75" fill="#a0a8af" />
<rect x="216.75" y="593.25" width="20.25" height="46.75" fill="#de8696" />
<line x1="203.00" y1="581.25" x2="203.00" y2="561.25" stroke="#3f4b58" stroke-width="1.2" />
<line x1="198.25" y1="561.25" x2="207.75" y2="561.25" stroke="#3f4b58" stroke-width="1.2" />
<line x1="226.75" y1="593.25" x2="226.75" y2="549.25" stroke="#c8102e" stroke-width="1.2" />
<line x1="222.00" y1="549.25" x2="231.50" y2="549.25" stroke="#c8102e" stroke-width="1.2" />
<rect x="200.60" y="547.60" width="4.80" height="4.80" fill="#3f4b58" />
<rect x="200.60" y="570.60" width="4.80" height="4.80" fill="#3f4b58" />
<rect x="195.10" y="588.10" width="4.80" height="4.80" fill="#3f4b58" />
<rect x="206.35" y="588.10" width="4.80" height="4.80" fill="#3f4b58" />
<rect x="200.60" y="594.60" width="4.80" height="4.80" fill="#3f4b58" />
<rect x="224.35" y="546.85" width="4.80" height="4.80" fill="#c8102e" />
<rect x="224.35" y="594.60" width="4.80" height="4.80" fill="#c8102e" />
<rect x="218.85" y="601.35" width="4.80" height="4.80" fill="#c8102e" />
<rect x="229.60" y="602.10" width="4.80" height="4.80" fill="#c8102e" />
<rect x="224.35" y="608.85" width="4.80" height="4.80" fill="#c8102e" />
<line x1="181.70" y1="640.00" x2="247.50" y2="640.00" stroke="#000" stroke-width="1.6" />
<line x1="203.00" y1="640.00" x2="203.00" y2="644.50" stroke="#000" stroke-width="1.4400000000000002" />
<line x1="226.75" y1="640.00" x2="226.75" y2="644.50" stroke="#000" stroke-width="1.4400000000000002" />
<text transform="translate(207.60,655.00) rotate(-45)" font-size="11.5" text-anchor="end" font-weight="normal" fill="#000" >Control</text>
<text transform="translate(231.35,655.00) rotate(-45)" font-size="11.5" text-anchor="end" font-weight="normal" fill="#000" >Niraparib</text>
<text transform="translate(214.60,530.00)" font-size="13.4" text-anchor="middle" font-weight="normal" fill="#000" >Collagen</text>
<text transform="translate(150.72,588.00) rotate(-90)" font-size="13.5" text-anchor="middle" font-weight="normal" textLength="71.4" lengthAdjust="spacingAndGlyphs" stroke="#000" stroke-width="0.45">Aggregation (%)</text>
<line x1="305.00" y1="537.50" x2="305.00" y2="640.00" stroke="#000" stroke-width="1.6" />
<line x1="301.00" y1="542.00" x2="305.00" y2="542.00" stroke="#000" stroke-width="1.4400000000000002" />
<text transform="translate(296.00,545.89) scale(1.12,1)" font-size="10.8" text-anchor="end" font-weight="normal" fill="#000" >80</text>
<line x1="301.00" y1="566.25" x2="305.00" y2="566.25" stroke="#000" stroke-width="1.4400000000000002" />
<text transform="translate(296.00,570.14) scale(1.12,1)" font-size="10.8" text-anchor="end" font-weight="normal" fill="#000" >60</text>
<line x1="301.00" y1="590.50" x2="305.00" y2="590.50" stroke="#000" stroke-width="1.4400000000000002" />
<text transform="translate(296.00,594.39) scale(1.12,1)" font-size="10.8" text-anchor="end" font-weight="normal" fill="#000" >40</text>
<line x1="301.00" y1="615.00" x2="305.00" y2="615.00" stroke="#000" stroke-width="1.4400000000000002" />
<text transform="translate(296.00,618.89) scale(1.12,1)" font-size="10.8" text-anchor="end" font-weight="normal" fill="#000" >20</text>
<line x1="301.00" y1="640.00" x2="305.00" y2="640.00" stroke="#000" stroke-width="1.4400000000000002" />
<text transform="translate(296.00,643.89) scale(1.12,1)" font-size="10.8" text-anchor="end" font-weight="normal" fill="#000" >0</text>
<rect x="315.50" y="570.00" width="20.25" height="70.00" fill="#a0a8af" />
<rect x="339.50" y="576.25" width="20.00" height="63.75" fill="#de8696" />
<line x1="325.50" y1="570.00" x2="325.50" y2="562.50" stroke="#3f4b58" stroke-width="1.2" />
<line x1="320.75" y1="562.50" x2="330.25" y2="562.50" stroke="#3f4b58" stroke-width="1.2" />
<line x1="348.75" y1="576.25" x2="348.75" y2="559.50" stroke="#c8102e" stroke-width="1.2" />
<line x1="344.00" y1="559.50" x2="353.50" y2="559.50" stroke="#c8102e" stroke-width="1.2" />
<rect x="323.10" y="557.60" width="4.80" height="4.80" fill="#3f4b58" />
<rect x="315.60" y="563.10" width="4.80" height="4.80" fill="#3f4b58" />
<rect x="315.60" y="568.85" width="4.80" height="4.80" fill="#3f4b58" />
<rect x="323.10" y="566.35" width="4.80" height="4.80" fill="#3f4b58" />
<rect x="330.85" y="566.35" width="4.80" height="4.80" fill="#3f4b58" />
<rect x="346.35" y="557.10" width="4.80" height="4.80" fill="#c8102e" />
<rect x="346.35" y="565.10" width="4.80" height="4.80" fill="#c8102e" />
<rect x="338.85" y="583.85" width="4.80" height="4.80" fill="#c8102e" />
<rect x="346.35" y="579.60" width="4.80" height="4.80" fill="#c8102e" />
<rect x="354.60" y="580.60" width="4.80" height="4.80" fill="#c8102e" />
<line x1="304.20" y1="640.00" x2="370.00" y2="640.00" stroke="#000" stroke-width="1.6" />
<line x1="325.50" y1="640.00" x2="325.50" y2="644.50" stroke="#000" stroke-width="1.4400000000000002" />
<line x1="348.75" y1="640.00" x2="348.75" y2="644.50" stroke="#000" stroke-width="1.4400000000000002" />
<text transform="translate(330.10,655.00) rotate(-45)" font-size="11.5" text-anchor="end" font-weight="normal" fill="#000" >Control</text>
<text transform="translate(353.35,655.00) rotate(-45)" font-size="11.5" text-anchor="end" font-weight="normal" fill="#000" >Niraparib</text>
<text transform="translate(336.60,530.00)" font-size="13.7" text-anchor="middle" font-weight="normal" fill="#000" >ADP</text>
<text transform="translate(273.22,588.00) rotate(-90)" font-size="13.5" text-anchor="middle" font-weight="normal" textLength="71.4" lengthAdjust="spacingAndGlyphs" stroke="#000" stroke-width="0.45">Aggregation (%)</text>
<line x1="426.25" y1="537.50" x2="426.25" y2="640.00" stroke="#000" stroke-width="1.6" />
<line x1="422.25" y1="542.00" x2="426.25" y2="542.00" stroke="#000" stroke-width="1.4400000000000002" />
<text transform="translate(417.25,545.89) scale(1.12,1)" font-size="10.8" text-anchor="end" font-weight="normal" fill="#000" >80</text>
<line x1="422.25" y1="567.00" x2="426.25" y2="567.00" stroke="#000" stroke-width="1.4400000000000002" />
<text transform="translate(417.25,570.89) scale(1.12,1)" font-size="10.8" text-anchor="end" font-weight="normal" fill="#000" >60</text>
<line x1="422.25" y1="591.25" x2="426.25" y2="591.25" stroke="#000" stroke-width="1.4400000000000002" />
<text transform="translate(417.25,595.14) scale(1.12,1)" font-size="10.8" text-anchor="end" font-weight="normal" fill="#000" >40</text>
<line x1="422.25" y1="615.50" x2="426.25" y2="615.50" stroke="#000" stroke-width="1.4400000000000002" />
<text transform="translate(417.25,619.39) scale(1.12,1)" font-size="10.8" text-anchor="end" font-weight="normal" fill="#000" >20</text>
<line x1="422.25" y1="640.00" x2="426.25" y2="640.00" stroke="#000" stroke-width="1.4400000000000002" />
<text transform="translate(417.25,643.89) scale(1.12,1)" font-size="10.8" text-anchor="end" font-weight="normal" fill="#000" >0</text>
<rect x="438.00" y="597.50" width="20.25" height="42.50" fill="#a0a8af" />
<rect x="462.00" y="598.75" width="20.00" height="41.25" fill="#de8696" />
<line x1="448.00" y1="597.50" x2="448.00" y2="580.00" stroke="#3f4b58" stroke-width="1.2" />
<line x1="443.25" y1="580.00" x2="452.75" y2="580.00" stroke="#3f4b58" stroke-width="1.2" />
<line x1="471.75" y1="598.75" x2="471.75" y2="559.50" stroke="#c8102e" stroke-width="1.2" />
<line x1="467.00" y1="559.50" x2="476.50" y2="559.50" stroke="#c8102e" stroke-width="1.2" />
<rect x="445.60" y="565.60" width="4.80" height="4.80" fill="#3f4b58" />
<rect x="450.85" y="596.35" width="4.80" height="4.80" fill="#3f4b58" />
<rect x="440.60" y="601.35" width="4.80" height="4.80" fill="#3f4b58" />
<rect x="450.85" y="602.60" width="4.80" height="4.80" fill="#3f4b58" />
<rect x="440.60" y="607.60" width="4.80" height="4.80" fill="#3f4b58" />
<rect x="469.35" y="557.10" width="4.80" height="4.80" fill="#c8102e" />
<rect x="469.35" y="590.85" width="4.80" height="4.80" fill="#c8102e" />
<rect x="464.35" y="600.10" width="4.80" height="4.80" fill="#c8102e" />
<rect x="474.60" y="604.60" width="4.80" height="4.80" fill="#c8102e" />
<rect x="469.35" y="625.10" width="4.80" height="4.80" fill="#c8102e" />
<line x1="425.45" y1="640.00" x2="493.00" y2="640.00" stroke="#000" stroke-width="1.6" />
<line x1="448.00" y1="640.00" x2="448.00" y2="644.50" stroke="#000" stroke-width="1.4400000000000002" />
<line x1="471.75" y1="640.00" x2="471.75" y2="644.50" stroke="#000" stroke-width="1.4400000000000002" />
<text transform="translate(452.60,655.00) rotate(-45)" font-size="11.5" text-anchor="end" font-weight="normal" fill="#000" >Control</text>
<text transform="translate(476.35,655.00) rotate(-45)" font-size="11.5" text-anchor="end" font-weight="normal" fill="#000" >Niraparib</text>
<text transform="translate(459.40,530.00)" font-size="13" text-anchor="middle" font-weight="normal" fill="#000" >Thromboxane</text>
<text transform="translate(395.92,588.00) rotate(-90)" font-size="13.5" text-anchor="middle" font-weight="normal" textLength="71.4" lengthAdjust="spacingAndGlyphs" stroke="#000" stroke-width="0.45">Aggregation (%)</text>
<g stroke-linecap="round" stroke-linejoin="round">
<path d="M94.5,767.5 L83.8,762.6 L82.4,765 L93.5,773.5 Z" fill="#6d6158"/>
<path d="M109.5,767.5 L120.2,762.6 L121.6,765 L110.5,773.5 Z" fill="#6d6158"/>
<circle cx="82.6" cy="763.8" r="1.9" fill="#b89c9a"/>
<circle cx="120.6" cy="763.8" r="1.9" fill="#b89c9a"/>
<line x1="92.50" y1="804.50" x2="82.00" y2="812.20" stroke="#b89c9a" stroke-width="2.1" />
<line x1="111.50" y1="804.50" x2="122.00" y2="812.20" stroke="#b89c9a" stroke-width="2.1" />
<line x1="92.50" y1="804.50" x2="89.00" y2="807.50" stroke="#6d6158" stroke-width="2.6" />
<line x1="111.50" y1="804.50" x2="115.00" y2="807.50" stroke="#6d6158" stroke-width="2.6" />
<line x1="101.80" y1="806.00" x2="101.80" y2="819.00" stroke="#b39392" stroke-width="1.8" />
<circle cx="93.3" cy="759.8" r="2.1" fill="#a48c88"/>
<circle cx="110.4" cy="759.8" r="2.1" fill="#a48c88"/>
<path d="M101.7,749.6 Q104.5,750.5 106.5,755 Q109.5,758 110,763 L110,767 Q110.8,776 111.9,785 Q116.6,790 116.3,796 Q115,803 108.5,806.5 Q105,808 102.3,808 Q99.5,808 95.5,806.5 Q89,803 87.6,796 Q87.4,790 92.1,785 Q93.2,776 94,767 L93.8,763 Q94.2,758 97.2,755 Q99.2,750.5 101.7,749.6 Z" fill="#6d6158" stroke="#4b4038" stroke-width="0.5"/>
<path d="M97,764 Q102,768 107,764" fill="none" stroke="#5a4d45" stroke-width="1"/>
<circle cx="101.7" cy="750.6" r="1.3" fill="#2a2220"/>
<circle cx="98.8" cy="794.3" r="2.7" fill="#c6707c"/>
<circle cx="98.8" cy="794.3" r="1.1" fill="#a84858"/>
<line x1="95.10" y1="804.00" x2="90.90" y2="823.40" stroke="#8fb3c4" stroke-width="3.4" stroke-linecap="butt"/>
<line x1="95.10" y1="804.00" x2="90.90" y2="823.40" stroke="#d6e9f0" stroke-width="2.0" stroke-linecap="butt"/>
</g>
<defs><linearGradient id="hg" x1="0" y1="0" x2="0" y2="1"><stop offset="0" stop-color="#3a322d"/><stop offset="1" stop-color="#6d6158"/></linearGradient><radialGradient id="fg" cx="0.5" cy="0.45" r="0.5"><stop offset="0" stop-color="#9b8d7f"/><stop offset="0.7" stop-color="#857769"/><stop offset="1" stop-color="#6a5e55"/></radialGradient></defs>
<circle cx="163.2" cy="775.3" r="4.1" fill="#bfa29e" stroke="#7f6560" stroke-width="0.6"/>
<circle cx="191" cy="775.3" r="4.1" fill="#bfa29e" stroke="#7f6560" stroke-width="0.6"/>
<path d="M164,763.6 L190,763.6 L190.2,772 C190.2,782 186.5,789 183,794 Q180.5,801 177.2,801.2 Q173.8,801 171.4,794 C167.8,789 163.8,782 163.8,772 Z" fill="url(#fg)" stroke="#4a403a" stroke-width="0.4"/>
<path d="M164,763.6 L190,763.6 L190,770 Q177,766 164,770 Z" fill="url(#hg)"/>
<circle cx="171" cy="788.3" r="1.5" fill="#1d1917"/>
<circle cx="182.7" cy="788.3" r="1.5" fill="#1d1917"/>
<ellipse cx="177" cy="799" rx="2" ry="1.5" fill="#5e514a"/>
<line x1="170.80" y1="797.00" x2="168.90" y2="805.80" stroke="#b5b5b5" stroke-width="0.7" />
<line x1="168.30" y1="808.70" x2="172.10" y2="814.70" stroke="#b0283f" stroke-width="1.9" stroke-linecap="butt"/>
<line x1="168.30" y1="808.70" x2="172.10" y2="814.70" stroke="#e9a9b3" stroke-width="0.45" stroke-linecap="butt"/>
<line x1="170.90" y1="807.50" x2="174.40" y2="813.30" stroke="#b0283f" stroke-width="1.9" stroke-linecap="butt"/>
<line x1="170.90" y1="807.50" x2="174.40" y2="813.30" stroke="#e9a9b3" stroke-width="0.45" stroke-linecap="butt"/>
<line x1="186.20" y1="808.70" x2="182.50" y2="814.70" stroke="#b0283f" stroke-width="1.9" stroke-linecap="butt"/>
<line x1="186.20" y1="808.70" x2="182.50" y2="814.70" stroke="#e9a9b3" stroke-width="0.45" stroke-linecap="butt"/>
<line x1="183.60" y1="807.50" x2="180.20" y2="813.30" stroke="#b0283f" stroke-width="1.9" stroke-linecap="butt"/>
<line x1="183.60" y1="807.50" x2="180.20" y2="813.30" stroke="#e9a9b3" stroke-width="0.45" stroke-linecap="butt"/>
<line x1="175.70" y1="816.50" x2="175.70" y2="825.00" stroke="#b0283f" stroke-width="1.9" stroke-linecap="butt"/>
<line x1="175.70" y1="816.50" x2="175.70" y2="825.00" stroke="#e9a9b3" stroke-width="0.45" stroke-linecap="butt"/>
<line x1="178.70" y1="816.50" x2="178.70" y2="825.00" stroke="#b0283f" stroke-width="1.9" stroke-linecap="butt"/>
<line x1="178.70" y1="816.50" x2="178.70" y2="825.00" stroke="#e9a9b3" stroke-width="0.45" stroke-linecap="butt"/>
<line x1="174.40" y1="813.30" x2="177.20" y2="815.50" stroke="#7a3a40" stroke-width="0.6" />
<line x1="180.20" y1="813.30" x2="177.20" y2="815.50" stroke="#7a3a40" stroke-width="0.6" />
<rect x="47.50" y="831.30" width="105.50" height="15.70" fill="#df8393" stroke="#c86a7a" stroke-width="0.5"/>
<rect x="154.30" y="831.30" width="45.20" height="15.70" fill="#e3e3e3" stroke="#9a9a9a" stroke-width="0.6"/>
<text transform="translate(102.40,842.20)" font-size="7.7" text-anchor="middle" font-weight="normal" fill="#222" >Niraparib</text>
<text transform="translate(177.10,842.20)" font-size="7.7" text-anchor="middle" font-weight="normal" fill="#222" >anti-GPIbα</text>
<text transform="translate(227.50,837.40)" font-size="7.5" text-anchor="middle" font-weight="normal" fill="#222" >Daily platelet</text>
<text transform="translate(228.00,845.60)" font-size="7.5" text-anchor="middle" font-weight="normal" fill="#222" >counts</text>
<text transform="translate(15.40,866.90)" font-size="7.7" text-anchor="start" font-weight="normal" fill="#222" >Week 1</text>
<line x1="51.30" y1="864.40" x2="218.00" y2="864.40" stroke="#111" stroke-width="0.9" />
<path d="M215.5,861.2 L222.7,864.5 L215.5,867.8 Z" fill="#000"/>
<line x1="51.10" y1="848.30" x2="51.10" y2="854.50" stroke="#000" stroke-width="0.6" />
<path d="M49.5,853.6 L52.7,853.6 L51.1,857.2 Z" fill="#000"/>
<circle cx="51.1" cy="864.4" r="4.5" fill="#fff" stroke="#222" stroke-width="0.7"/>
<text transform="translate(51.10,866.70)" font-size="6.5" text-anchor="middle" font-weight="normal" fill="#222" >−5</text>
<line x1="76.20" y1="848.30" x2="76.20" y2="854.50" stroke="#000" stroke-width="0.6" />
<path d="M74.6,853.6 L77.8,853.6 L76.2,857.2 Z" fill="#000"/>
<circle cx="76.2" cy="864.4" r="4.5" fill="#fff" stroke="#222" stroke-width="0.7"/>
<text transform="translate(76.20,866.70)" font-size="6.5" text-anchor="middle" font-weight="normal" fill="#222" >−4</text>
<line x1="100.60" y1="848.30" x2="100.60" y2="854.50" stroke="#000" stroke-width="0.6" />
<path d="M99.0,853.6 L102.2,853.6 L100.6,857.2 Z" fill="#000"/>
<circle cx="100.6" cy="864.4" r="4.5" fill="#fff" stroke="#222" stroke-width="0.7"/>
<text transform="translate(100.60,866.70)" font-size="6.5" text-anchor="middle" font-weight="normal" fill="#222" >−3</text>
<line x1="125.50" y1="848.30" x2="125.50" y2="854.50" stroke="#000" stroke-width="0.6" />
<path d="M123.9,853.6 L127.1,853.6 L125.5,857.2 Z" fill="#000"/>
<circle cx="125.5" cy="864.4" r="4.5" fill="#fff" stroke="#222" stroke-width="0.7"/>
<text transform="translate(125.50,866.70)" font-size="6.5" text-anchor="middle" font-weight="normal" fill="#222" >−2</text>
<line x1="149.60" y1="848.30" x2="149.60" y2="854.50" stroke="#000" stroke-width="0.6" />
<path d="M148.0,853.6 L151.2,853.6 L149.6,857.2 Z" fill="#000"/>
<circle cx="149.6" cy="864.4" r="4.5" fill="#fff" stroke="#222" stroke-width="0.7"/>
<text transform="translate(149.60,866.70)" font-size="6.5" text-anchor="middle" font-weight="normal" fill="#222" >−1</text>
<line x1="177.50" y1="848.30" x2="177.50" y2="854.50" stroke="#000" stroke-width="0.6" />
<path d="M175.9,853.6 L179.1,853.6 L177.5,857.2 Z" fill="#000"/>
<circle cx="177.5" cy="864.4" r="4.5" fill="#fff" stroke="#222" stroke-width="0.7"/>
<text transform="translate(177.50,866.70)" font-size="6.5" text-anchor="middle" font-weight="normal" fill="#222" >0</text>
<rect x="226.30" y="853.10" width="4.90" height="5.70" fill="#d2532f" />
<rect x="226.30" y="858.80" width="4.90" height="2.80" fill="#f3e3cc" />
<rect x="226.30" y="861.60" width="4.90" height="2.40" fill="#d8dc98" />
<rect x="226.30" y="864.00" width="4.90" height="11.00" fill="#f6eeee" />
<path d="M228.6,864 L230.9,864 L230.9,874.5 Q230.5,876.4 228.8,876.4 Q227.4,876.4 227.2,874.2 L228.6,873.5 Z" fill="#74303a"/>
<line x1="340.50" y1="737.50" x2="340.50" y2="896.30" stroke="#000" stroke-width="1.6" />
<line x1="336.50" y1="740.94" x2="340.50" y2="740.94" stroke="#000" stroke-width="1.4400000000000002" />
<text transform="translate(331.50,744.83) scale(1.12,1)" font-size="10.8" text-anchor="end" font-weight="normal" fill="#000" >2000</text>
<line x1="336.50" y1="779.78" x2="340.50" y2="779.78" stroke="#000" stroke-width="1.4400000000000002" />
<text transform="translate(331.50,783.67) scale(1.12,1)" font-size="10.8" text-anchor="end" font-weight="normal" fill="#000" >1500</text>
<line x1="336.50" y1="818.62" x2="340.50" y2="818.62" stroke="#000" stroke-width="1.4400000000000002" />
<text transform="translate(331.50,822.51) scale(1.12,1)" font-size="10.8" text-anchor="end" font-weight="normal" fill="#000" >1000</text>
<line x1="336.50" y1="857.46" x2="340.50" y2="857.46" stroke="#000" stroke-width="1.4400000000000002" />
<text transform="translate(331.50,861.35) scale(1.12,1)" font-size="10.8" text-anchor="end" font-weight="normal" fill="#000" >500</text>
<line x1="336.50" y1="896.30" x2="340.50" y2="896.30" stroke="#000" stroke-width="1.4400000000000002" />
<text transform="translate(331.50,900.19) scale(1.12,1)" font-size="10.8" text-anchor="end" font-weight="normal" fill="#000" >0</text>
<line x1="339.70" y1="896.30" x2="497.00" y2="896.30" stroke="#000" stroke-width="1.6" />
<line x1="340.50" y1="896.30" x2="340.50" y2="900.80" stroke="#000" stroke-width="1.4400000000000002" />
<line x1="384.70" y1="896.30" x2="384.70" y2="900.80" stroke="#000" stroke-width="1.4400000000000002" />
<line x1="428.90" y1="896.30" x2="428.90" y2="900.80" stroke="#000" stroke-width="1.4400000000000002" />
<line x1="473.10" y1="896.30" x2="473.10" y2="900.80" stroke="#000" stroke-width="1.4400000000000002" />
<text transform="translate(340.50,915.20) scale(1.12,1)" font-size="10.8" text-anchor="middle" font-weight="normal" fill="#000" >0</text>
<text transform="translate(384.70,915.20) scale(1.12,1)" font-size="10.8" text-anchor="middle" font-weight="normal" fill="#000" >2</text>
<text transform="translate(428.90,915.20) scale(1.12,1)" font-size="10.8" text-anchor="middle" font-weight="normal" fill="#000" >4</text>
<text transform="translate(473.10,915.20) scale(1.12,1)" font-size="10.8" text-anchor="middle" font-weight="normal" fill="#000" >6</text>
<text transform="translate(418.1,933.5)" font-size="13.7" text-anchor="middle" textLength="16" lengthAdjust="spacingAndGlyphs" stroke="#000" stroke-width="0.45">Day</text>
<text transform="translate(294.92,814.40) rotate(-90)" font-size="13.5" text-anchor="middle" font-weight="normal" textLength="60.5" lengthAdjust="spacingAndGlyphs" stroke="#000" stroke-width="0.45">Plt (×10<tspan dy="-4" font-size="8">3</tspan><tspan dy="4">/μL)</tspan></text>
<line x1="407.50" y1="896.30" x2="495.00" y2="830.00" stroke="#3f4b58" stroke-width="1.5" />
<line x1="412.50" y1="896.30" x2="495.00" y2="810.00" stroke="#c8102e" stroke-width="1.5" />
<line x1="340.50" y1="788.70" x2="340.50" y2="811.70" stroke="#4d6a6a" stroke-width="1.1" />
<line x1="337.70" y1="788.70" x2="343.30" y2="788.70" stroke="#4d6a6a" stroke-width="1.1" />
<line x1="337.70" y1="811.70" x2="343.30" y2="811.70" stroke="#4d6a6a" stroke-width="1.1" />
<line x1="340.50" y1="796.30" x2="340.50" y2="808.80" stroke="#c8102e" stroke-width="1.1" />
<line x1="337.70" y1="796.30" x2="343.30" y2="796.30" stroke="#c8102e" stroke-width="1.1" />
<line x1="337.70" y1="808.80" x2="343.30" y2="808.80" stroke="#c8102e" stroke-width="1.1" />
<line x1="428.90" y1="872.00" x2="428.90" y2="885.00" stroke="#3f4b58" stroke-width="1.1" />
<line x1="426.10" y1="872.00" x2="431.70" y2="872.00" stroke="#3f4b58" stroke-width="1.1" />
<line x1="426.10" y1="885.00" x2="431.70" y2="885.00" stroke="#3f4b58" stroke-width="1.1" />
<line x1="428.90" y1="875.00" x2="428.90" y2="884.00" stroke="#c8102e" stroke-width="1.1" />
<line x1="426.10" y1="875.00" x2="431.70" y2="875.00" stroke="#c8102e" stroke-width="1.1" />
<line x1="426.10" y1="884.00" x2="431.70" y2="884.00" stroke="#c8102e" stroke-width="1.1" />
<line x1="451.00" y1="865.00" x2="451.00" y2="877.00" stroke="#3f4b58" stroke-width="1.1" />
<line x1="448.20" y1="865.00" x2="453.80" y2="865.00" stroke="#3f4b58" stroke-width="1.1" />
<line x1="448.20" y1="877.00" x2="453.80" y2="877.00" stroke="#3f4b58" stroke-width="1.1" />
<line x1="473.10" y1="846.00" x2="473.10" y2="857.50" stroke="#3f4b58" stroke-width="1.1" />
<line x1="470.30" y1="846.00" x2="475.90" y2="846.00" stroke="#3f4b58" stroke-width="1.1" />
<line x1="470.30" y1="857.50" x2="475.90" y2="857.50" stroke="#3f4b58" stroke-width="1.1" />
<line x1="495.20" y1="818.80" x2="495.20" y2="827.50" stroke="#3f4b58" stroke-width="1.1" />
<line x1="492.40" y1="818.80" x2="498.00" y2="818.80" stroke="#3f4b58" stroke-width="1.1" />
<line x1="492.40" y1="827.50" x2="498.00" y2="827.50" stroke="#3f4b58" stroke-width="1.1" />
<line x1="495.20" y1="797.50" x2="495.20" y2="808.80" stroke="#c8102e" stroke-width="1.1" />
<line x1="492.40" y1="797.50" x2="498.00" y2="797.50" stroke="#c8102e" stroke-width="1.1" />
<line x1="492.40" y1="808.80" x2="498.00" y2="808.80" stroke="#c8102e" stroke-width="1.1" />
<rect x="337.40" y="799.60" width="6.20" height="6.20" fill="#c8102e" />
<rect x="359.50" y="890.40" width="6.20" height="6.20" fill="#c8102e" />
<rect x="403.70" y="890.40" width="6.20" height="6.20" fill="#c8102e" />
<rect x="425.80" y="876.90" width="6.20" height="6.20" fill="#c8102e" />
<rect x="447.90" y="873.20" width="6.20" height="6.20" fill="#c8102e" />
<rect x="470.00" y="829.40" width="6.20" height="6.20" fill="#c8102e" />
<rect x="492.10" y="799.90" width="6.20" height="6.20" fill="#c8102e" />
<circle cx="340.50" cy="801.2" r="3.3" fill="#3f4b58"/>
<circle cx="428.90" cy="878" r="3.3" fill="#3f4b58"/>
<circle cx="451.00" cy="872" r="3.3" fill="#3f4b58"/>
<circle cx="473.10" cy="852" r="3.3" fill="#3f4b58"/>
<circle cx="495.20" cy="823" r="3.3" fill="#3f4b58"/>
<rect x="359.80" y="890.20" width="5.60" height="5.60" fill="#3f4b58" />
<rect x="404.00" y="890.20" width="5.60" height="5.60" fill="#3f4b58" />
<circle cx="435.5" cy="740.8" r="2.7" fill="#3f4b58"/>
<text transform="translate(443.00,744.50)" font-size="10.4" text-anchor="start" font-weight="normal" fill="#000" >Vehicle</text>
<rect x="432.70" y="754.00" width="5.60" height="5.60" fill="#c8102e" />
<text transform="translate(443.00,760.50)" font-size="10.6" text-anchor="start" font-weight="normal" fill="#000" >Niraparib</text>
<text transform="translate(480.00,790.00) scale(1.07,1)" font-size="10.8" text-anchor="start" font-weight="normal" fill="#000" >0.032</text>
<text transform="translate(457.30,815.60) scale(1.07,1)" font-size="10.8" text-anchor="start" font-weight="normal" fill="#000" >0.038</text>
<text transform="translate(345.70,786.50) scale(1.085,1)" font-size="10.8" text-anchor="start" font-weight="normal" fill="#000" >anti-GPIbα</text>
<line x1="354.60" y1="792.50" x2="354.60" y2="817.00" stroke="#000" stroke-width="1" />
<path d="M351.8,815.5 L357.4,815.5 L354.6,823.3 Z" fill="#000"/>
<rect x="0.50" y="0.50" width="519.00" height="946.00" fill="none" stroke="#141414" stroke-width="1.1"/>
</svg>
</body></html>
